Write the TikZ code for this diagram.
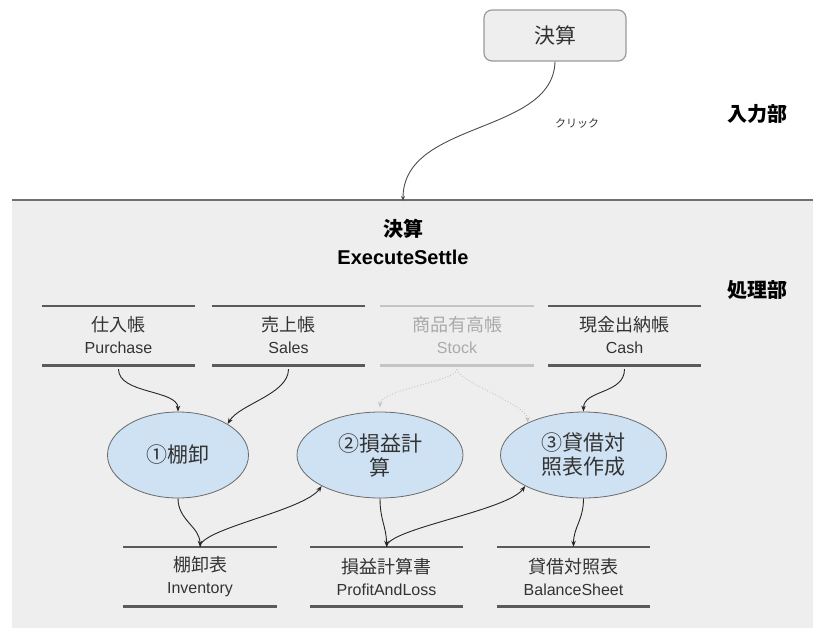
\documentclass[tikz,border=0pt]{standalone}
\usepackage{fontspec}
\setmainfont{Liberation Sans}
\newfontfamily\jp{Noto Sans CJK JP}
\usetikzlibrary{shapes.geometric,arrows.meta}
\definecolor{areabg}{HTML}{EEEEEE}
\definecolor{arealine}{HTML}{707070}
\definecolor{txt}{HTML}{333333}
\definecolor{storeln}{HTML}{5A5A5A}
\definecolor{faintln}{HTML}{C4C4C4}
\definecolor{fainttxt}{HTML}{AAAAAA}
\definecolor{procfill}{HTML}{CFE2F3}
\definecolor{procdraw}{HTML}{6A6A6A}
\definecolor{btnfill}{HTML}{EEEEEE}
\definecolor{btndraw}{HTML}{9A9A9A}
\tikzset{
  store/.style={minimum width=153pt, minimum height=61pt, inner sep=0pt, align=center, text=txt, font=\fontsize{16}{21}\selectfont},
  storeline/.style={draw=storeln, line width=2.6pt},
  faintline/.style={draw=faintln, line width=2.6pt},
  proc/.style={ellipse, draw=procdraw, line width=0.8pt, fill=procfill, minimum width=166pt, minimum height=86pt, inner sep=0pt, align=center, text=txt, font=\jp\fontsize{21}{24}\selectfont},
  flow/.style={draw=black!85, line width=0.9pt, -{Stealth[length=6pt,width=4.5pt]}},
  faintflow/.style={draw=faintln, line width=0.9pt, dotted, -{Stealth[length=6pt,width=4.5pt]}},
}
\newcommand{\storetext}[2]{{\jp\fontsize{18}{21}\selectfont #1}\\[1pt]{\fontsize{16}{21}\selectfont #2}}
\begin{document}
\begin{tikzpicture}[x=1pt,y=-1pt]
\useasboundingbox (0,0) rectangle (818,637);
% processing area
\fill[areabg] (12,200) rectangle (812.5,628);
\draw[arealine, line width=2.5pt] (12,200) -- (812.5,200);

% input part
\node[draw=btndraw, fill=btnfill, line width=1.2pt, rounded corners=8pt, minimum width=142pt, minimum height=51pt, text=txt, font=\jp\fontsize{21}{24}\selectfont] (btn) at (555,35.5) {決算};
\node[font=\jp\bfseries\fontsize{20}{24}\selectfont] (inlbl) at (757,114) {入力部};
\node[font=\jp\bfseries\fontsize{20}{24}\selectfont] (proclbl) at (757,290) {処理部};
\node[text=txt, font=\jp\fontsize{11}{13}\selectfont] (click) at (577,123) {クリック};

\coordinate (gtop) at (403,201);
\draw[draw=black!70, line width=0.9pt, -{Stealth[length=5pt,width=4pt]}] (btn.south) .. controls (553,135) and (403,120) .. (gtop);

\node[align=center, font=\bfseries\fontsize{20}{28}\selectfont] (settle) at (403,242) {{\jp\bfseries 決算}\\ExecuteSettle};

% input stores
\node[store] (pur) at (118.5,335.5) {\storetext{仕入帳}{Purchase}};
\node[store] (sal) at (288.5,335.5) {\storetext{売上帳}{Sales}};
\node[store, text=fainttxt] (stk) at (457,335.5) {\storetext{商品有高帳}{Stock}};
\node[store] (csh) at (624.5,335.5) {\storetext{現金出納帳}{Cash}};
\foreach \s in {pur,sal,csh}{
  \draw[storeline] ([yshift=-1pt]\s.north west) -- ([yshift=-1pt]\s.north east);
  \draw[storeline] ([yshift=1pt]\s.south west) -- ([yshift=1pt]\s.south east);
}
\draw[faintline] ([yshift=-1pt]stk.north west) -- ([yshift=-1pt]stk.north east);
\draw[faintline] ([yshift=1pt]stk.south west) -- ([yshift=1pt]stk.south east);

% processes
\node[proc, minimum width=141pt] (e1) at (178,455) {①棚卸};
\node[proc] (e2) at (380,455) {②損益計\\算};
\node[proc] (e3) at (583.5,455) {③貸借対\\照表作成};

% output stores
\node[store] (inv) at (200,576.5) {\storetext{棚卸表}{Inventory}};
\node[store] (pl) at (386.5,576.5) {\storetext{損益計算書}{ProfitAndLoss}};
\node[store] (bs) at (573.5,576.5) {\storetext{貸借対照表}{BalanceSheet}};
\foreach \s in {inv,pl,bs}{
  \draw[storeline] ([yshift=-1pt]\s.north west) -- ([yshift=-1pt]\s.north east);
  \draw[storeline] ([yshift=1pt]\s.south west) -- ([yshift=1pt]\s.south east);
}

% flows
\draw[flow] ([yshift=-3pt]pur.south) .. controls +(0,25) and +(0,-22) .. (e1.north);
\draw[flow] ([yshift=-3pt]sal.south) .. controls +(0,25) and +(12,-20) .. (e1.32);
\draw[faintflow] ([yshift=-3pt]stk.south) .. controls +(0,12) and +(0,-18) .. ([yshift=4pt]e2.north);
\draw[faintflow] ([yshift=-3pt]stk.south) .. controls +(0,12) and +(0,-18) .. (e3.150);
\draw[flow] ([yshift=-3pt]csh.south) .. controls +(0,25) and +(0,-22) .. (e3.north);

\draw[flow] (e1.south) .. controls +(0,22) and +(0,-20) .. ([yshift=-1pt]inv.north);
\draw[flow] ([yshift=-1pt]inv.north) .. controls +(0,-18) and +(-18,25) .. (e2.208);
\draw[flow] (e2.south) .. controls +(0,22) and +(0,-20) .. ([yshift=-1pt]pl.north);
\draw[flow] ([yshift=-1pt]pl.north) .. controls +(0,-18) and +(-18,25) .. (e3.208);
\draw[flow] (e3.south) .. controls +(0,22) and +(0,-20) .. ([yshift=-1pt]bs.north);
\end{tikzpicture}
\end{document}
